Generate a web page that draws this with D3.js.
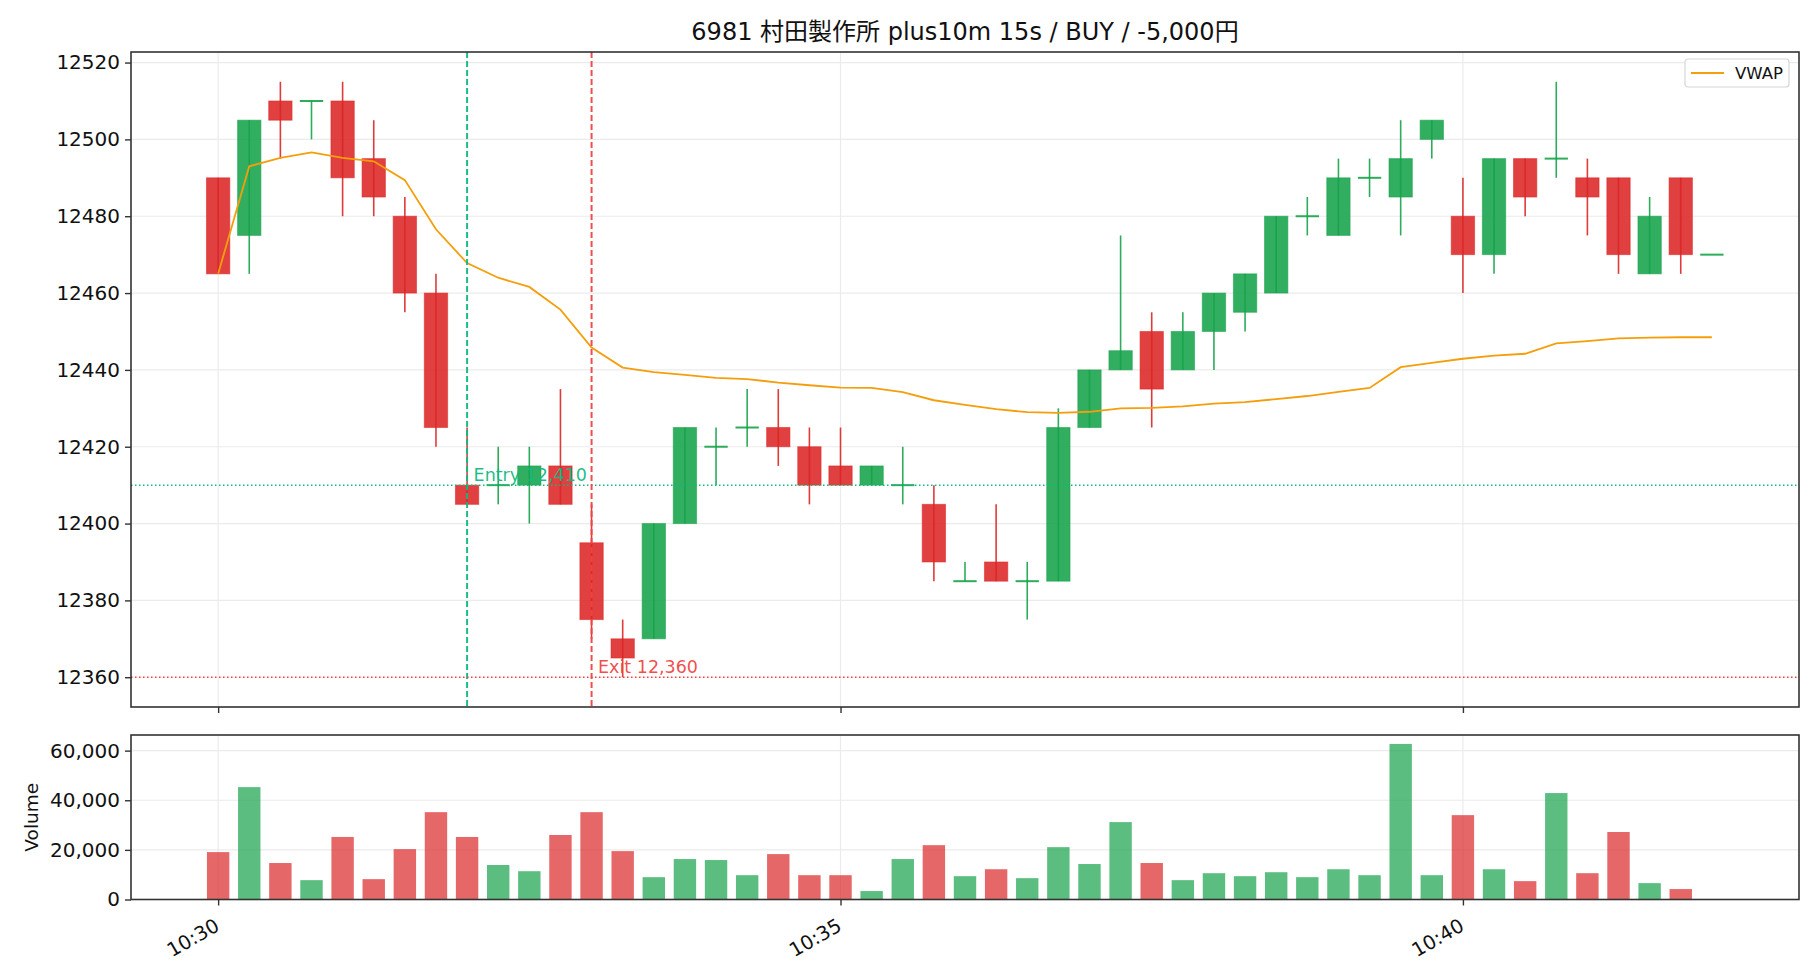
<!DOCTYPE html>
<html>
<head>
<meta charset="utf-8">
<script src="https://cdn.jsdelivr.net/npm/d3@7"></script>
<style>
  body { margin: 0; background: #fff; }
  svg text { font-family: "DejaVu Sans", "Noto Sans CJK JP", sans-serif; fill: #111; }
</style>
</head>
<body>
<div id="chart"></div>
<script>
// 15s bars, 10:30:00 - 10:42:00
const times = [
  '10:30:00','10:30:15','10:30:30','10:30:45','10:31:00','10:31:15','10:31:30','10:31:45',
  '10:32:00','10:32:15','10:32:30','10:32:45','10:33:00','10:33:15','10:33:30','10:33:45',
  '10:34:00','10:34:15','10:34:30','10:34:45','10:35:00','10:35:15','10:35:30','10:35:45',
  '10:36:00','10:36:15','10:36:30','10:36:45','10:37:00','10:37:15','10:37:30','10:37:45',
  '10:38:00','10:38:15','10:38:30','10:38:45','10:39:00','10:39:15','10:39:30','10:39:45',
  '10:40:00','10:40:15','10:40:30','10:40:45','10:41:00','10:41:15','10:41:30','10:41:45',
  '10:42:00'
];
const opens = [
  12490,12475,12510,12510,12510,12495,12480,12460,12410,12410,12410,12415,12395,12370,12370,12400,
  12420,12425,12425,12420,12415,12410,12410,12405,12385,12390,12385,12385,12425,12440,12450,12440,
  12450,12455,12460,12480,12475,12490,12485,12500,12480,12470,12495,12495,12490,12490,12465,12490,
  12470
];
const highs = [
  12490,12505,12515,12510,12515,12505,12485,12465,12425,12420,12420,12435,12405,12375,12400,12425,
  12425,12435,12435,12425,12425,12415,12420,12410,12390,12405,12390,12430,12440,12475,12455,12455,
  12460,12465,12480,12485,12495,12495,12505,12505,12490,12495,12495,12515,12495,12490,12485,12490,
  12470
];
const lows = [
  12465,12465,12495,12500,12480,12480,12455,12420,12405,12405,12400,12405,12370,12360,12370,12400,
  12410,12420,12415,12405,12410,12410,12405,12385,12385,12385,12375,12385,12425,12440,12425,12440,
  12440,12450,12460,12475,12475,12485,12475,12495,12460,12465,12480,12490,12475,12465,12465,12465,
  12470
];
const closes = [
  12465,12505,12505,12510,12490,12485,12460,12425,12405,12410,12415,12405,12375,12365,12400,12425,
  12420,12425,12420,12410,12410,12415,12410,12390,12385,12385,12385,12425,12440,12445,12435,12450,
  12460,12465,12480,12480,12490,12490,12495,12505,12470,12495,12485,12495,12485,12470,12480,12470,
  12470
];
const volumes = [
  19100,45300,14700,7800,25200,8200,20300,35200,25200,13900,11400,26000,35200,19500,9000,16300,
  15900,9800,18300,9800,9800,3400,16300,21900,9400,12200,8600,21100,14300,31200,14700,7800,
  10600,9400,11000,9000,12200,9800,62700,9800,34000,12200,7400,42900,10600,27200,6600,4200,
  100
];
const vwap = [
  12465,12493,12495.2,12496.6,12495.2,12494.3,12489.4,12476.6,12467.8,12464.0,12461.6,12455.7,12445.8,12440.6,12439.4,12438.7,
  12437.9,12437.6,12436.7,12436.0,12435.4,12435.3,12434.2,12432.1,12430.9,12429.8,12429.0,12428.8,12429.1,12430.0,12430.1,12430.5,
  12431.2,12431.6,12432.4,12433.2,12434.3,12435.3,12440.7,12441.8,12442.9,12443.7,12444.2,12446.9,12447.5,12448.2,12448.4,12448.5,
  12448.5
];
const priceTicks = [12360, 12380, 12400, 12420, 12440, 12460, 12480, 12500, 12520];
const volumeTicks = [0, 20000, 40000, 60000];
const timeTicks = ['10:30:00', '10:35:00', '10:40:00'];

const entryTime = '10:32:00', entryPrice = 12410;
const exitTime = '10:33:00', exitPrice = 12360;
const title = '6981 村田製作所 plus10m 15s / BUY / -5,000円';

const UP = '#16a34a', DOWN = '#dc2626', VWAP_COLOR = '#f59e0b';
const ENTRY_COLOR = '#10b981', EXIT_COLOR = '#ef4444';

const parseTime = d3.timeParse('%H:%M:%S');
const rows = times.map((t, i) => ({
  t: parseTime(t), open: opens[i], high: highs[i], low: lows[i], close: closes[i],
  volume: volumes[i], vwap: vwap[i]
}));

const W = 1820, H = 980;
const left = 131, right = 1799;
const price = { top: 52, bottom: 707 };
const vol = { top: 735, bottom: 899.5 };

const svg = d3.select('#chart').append('svg')
  .attr('width', W)
  .attr('height', H);

const x = d3.scaleTime()
  .domain([parseTime('10:29:18'), parseTime('10:42:42')])
  .range([left, right]);

const y = d3.scaleLinear()
  .domain([12352.25, 12522.75])
  .range([price.bottom, price.top]);

const yv = d3.scaleLinear()
  .domain([0, 66300])
  .range([vol.bottom, vol.top]);

const step = x(rows[1].t) - x(rows[0].t);
const bodyW = step * 0.75;
const barW = step * 0.72;
const isUp = d => d.close >= d.open;

// grid lines
function grid(g, yScale, ticks, top, bottom) {
  g.append('g').selectAll('line')
    .data(ticks)
    .join('line')
    .attr('x1', left).attr('x2', right)
    .attr('y1', d => yScale(d)).attr('y2', d => yScale(d))
    .attr('stroke', '#ebebeb').attr('stroke-width', 1.2);
  g.append('g').selectAll('line')
    .data(timeTicks.map(parseTime))
    .join('line')
    .attr('x1', d => x(d)).attr('x2', d => x(d))
    .attr('y1', top).attr('y2', bottom)
    .attr('stroke', '#ebebeb').attr('stroke-width', 1.2);
}
grid(svg, y, priceTicks, price.top, price.bottom);
grid(svg, yv, volumeTicks, vol.top, vol.bottom);

// candles
const candles = svg.append('g');
candles.selectAll('rect.body')
  .data(rows.filter(d => d.open !== d.close))
  .join('rect')
  .attr('class', 'body')
  .attr('x', d => x(d.t) - bodyW / 2)
  .attr('width', bodyW)
  .attr('y', d => y(Math.max(d.open, d.close)))
  .attr('height', d => y(Math.min(d.open, d.close)) - y(Math.max(d.open, d.close)))
  .attr('fill', d => isUp(d) ? UP : DOWN)
  .attr('fill-opacity', 0.88)
  .attr('stroke', d => isUp(d) ? UP : DOWN)
  .attr('stroke-opacity', 0.55)
  .attr('stroke-width', 1);

candles.selectAll('line.doji')
  .data(rows.filter(d => d.open === d.close))
  .join('line')
  .attr('class', 'doji')
  .attr('x1', d => x(d.t) - bodyW / 2)
  .attr('x2', d => x(d.t) + bodyW / 2)
  .attr('y1', d => y(d.close))
  .attr('y2', d => y(d.close))
  .attr('stroke', UP)
  .attr('stroke-opacity', 0.9)
  .attr('stroke-width', 2);

candles.selectAll('line.wick')
  .data(rows.filter(d => d.high !== d.low))
  .join('line')
  .attr('class', 'wick')
  .attr('x1', d => x(d.t)).attr('x2', d => x(d.t))
  .attr('y1', d => y(d.high)).attr('y2', d => y(d.low))
  .attr('stroke', d => isUp(d) ? UP : DOWN)
  .attr('stroke-opacity', 0.9)
  .attr('stroke-width', 1.6);

// VWAP
svg.append('path')
  .datum(rows)
  .attr('fill', 'none')
  .attr('stroke', VWAP_COLOR)
  .attr('stroke-width', 1.8)
  .attr('d', d3.line().x(d => x(d.t)).y(d => y(d.vwap)));

// entry / exit markers
const fmt = d3.format(',');
const markers = [
  { t: parseTime(entryTime), p: entryPrice, color: ENTRY_COLOR, label: 'Entry ' + fmt(entryPrice) },
  { t: parseTime(exitTime), p: exitPrice, color: EXIT_COLOR, label: 'Exit ' + fmt(exitPrice) }
];
markers.forEach(m => {
  svg.append('line')
    .attr('x1', left).attr('x2', right)
    .attr('y1', y(m.p)).attr('y2', y(m.p))
    .attr('stroke', m.color).attr('stroke-width', 1.5)
    .attr('stroke-dasharray', '1.5,2.5');
  svg.append('line')
    .attr('x1', x(m.t)).attr('x2', x(m.t))
    .attr('y1', price.top).attr('y2', price.bottom)
    .attr('stroke', m.color).attr('stroke-width', 2)
    .attr('stroke-opacity', 0.95)
    .attr('stroke-dasharray', '6,3');
  svg.append('text')
    .attr('x', x(m.t) + 6.5)
    .attr('y', y(m.p) - 4)
    .style('font-size', '17.5px')
    .style('fill', m.color)
    .style('fill-opacity', 0.95)
    .text(m.label);
});

// volume bars
svg.append('g').selectAll('rect')
  .data(rows)
  .join('rect')
  .attr('x', d => x(d.t) - barW / 2)
  .attr('width', barW)
  .attr('y', d => yv(d.volume))
  .attr('height', d => yv(0) - yv(d.volume))
  .attr('fill', d => isUp(d) ? UP : DOWN)
  .attr('fill-opacity', 0.7);

// axes
function styleAxis(g) {
  g.select('.domain').remove();
  g.selectAll('.tick line').attr('stroke', '#333').attr('stroke-width', 1.4);
  g.selectAll('.tick text').style('font-size', '20px').style('fill', '#111');
}

svg.append('g')
  .attr('transform', `translate(${left},0)`)
  .call(d3.axisLeft(y).tickValues(priceTicks).tickFormat(d3.format('d')).tickSize(6).tickPadding(5))
  .call(styleAxis);

svg.append('g')
  .attr('transform', `translate(${left},0)`)
  .call(d3.axisLeft(yv).tickValues(volumeTicks).tickFormat(d3.format(',')).tickSize(6).tickPadding(5))
  .call(styleAxis);

svg.append('g')
  .attr('transform', `translate(0,${price.bottom})`)
  .call(d3.axisBottom(x).tickValues(timeTicks.map(parseTime)).tickFormat('').tickSize(6))
  .call(styleAxis);

const xAxis = svg.append('g')
  .attr('transform', `translate(0,${vol.bottom})`)
  .call(d3.axisBottom(x).tickValues(timeTicks.map(parseTime)).tickFormat(d3.timeFormat('%H:%M')).tickSize(6))
  .call(styleAxis);
xAxis.selectAll('.tick text')
  .attr('y', 0).attr('dy', 0)
  .attr('transform', 'translate(2,30) rotate(-30)')
  .style('font-size', '19.5px')
  .style('text-anchor', 'end');

svg.append('text')
  .attr('transform', `translate(37.5,${(vol.top + vol.bottom) / 2}) rotate(-90)`)
  .attr('text-anchor', 'middle')
  .style('font-size', '18.5px')
  .text('Volume');

// frames
[price, vol].forEach(p => {
  svg.append('rect')
    .attr('x', left).attr('y', p.top)
    .attr('width', right - left).attr('height', p.bottom - p.top)
    .attr('fill', 'none').attr('stroke', '#333').attr('stroke-width', 1.6);
});

// legend
const lg = svg.append('g').attr('transform', `translate(${right - 114},${price.top + 7})`);
lg.append('rect')
  .attr('width', 104).attr('height', 28).attr('rx', 3)
  .attr('fill', '#fff').attr('fill-opacity', 0.85)
  .attr('stroke', '#d6d6d6').attr('stroke-width', 1.2);
lg.append('line')
  .attr('x1', 6).attr('x2', 39).attr('y1', 14).attr('y2', 14)
  .attr('stroke', VWAP_COLOR).attr('stroke-width', 1.8);
lg.append('text')
  .attr('x', 50).attr('y', 20)
  .style('font-size', '16.5px')
  .text('VWAP');

// title
svg.append('text')
  .attr('x', (left + right) / 2)
  .attr('y', 40)
  .attr('text-anchor', 'middle')
  .style('font-size', '24px')
  .text(title);
</script>
</body>
</html>
